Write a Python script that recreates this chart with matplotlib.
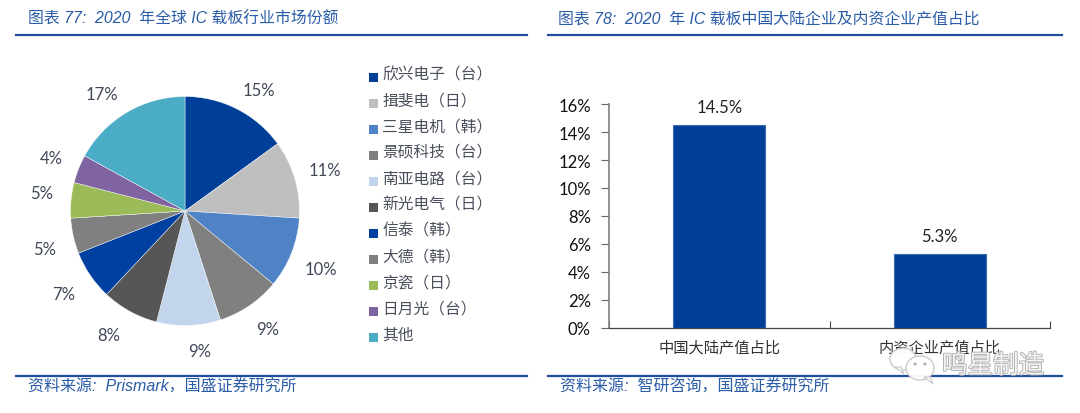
import matplotlib
matplotlib.use("Agg")
import matplotlib.pyplot as plt
import matplotlib.patheffects as pe
from matplotlib.patches import Ellipse, Polygon, Rectangle
from matplotlib.lines import Line2D

W, H = 1080, 414
CJK = ['Liberation Sans', 'Noto Sans CJK SC', 'DejaVu Sans']
plt.rcParams['font.family'] = ['Lato', 'Noto Sans CJK SC', 'DejaVu Sans']

# data
pie_names = ['欣兴电子（台）', '揖斐电（日）', '三星电机（韩）', '景硕科技（台）', '南亚电路（台）',
             '新光电气（日）', '信泰（韩）', '大德（韩）', '京瓷（日）', '日月光（台）', '其他']
pie_values = [15, 11, 10, 9, 9, 8, 7, 5, 5, 4, 17]
bar_names = ['中国大陆产值占比', '内资企业产值占比']
bar_values = [14.5, 5.3]
yticks = [0, 2, 4, 6, 8, 10, 12, 14, 16]

# styles
pie_colors = ['#003F98', '#BFBFBF', '#5082C6', '#808080', '#C3D5EC', '#565656',
              '#0040A0', '#808080', '#9BBB59', '#8064A2', '#4BACC6']
label_px = [(259, 91), (325, 171), (321, 270), (268, 330), (200, 352), (109, 336),
            (64, 295), (45, 250), (42, 194), (51, 159), (102, 95)]
legend_y = [78, 104, 130, 156, 182, 208, 234, 260, 286, 312, 338]
BLUE = '#1F4E9E'

fig = plt.figure(figsize=(W / 100, H / 100), dpi=100, facecolor='white')

def fx(x): return x / W
def fy(y): return 1 - y / H
def box(l, t, r, b): return [fx(l), fy(b), (r - l) / W, (b - t) / H]

# rules
for x0, x1 in [(16, 527), (548, 1062)]:
    for y in (35.5, 377):
        fig.add_artist(Line2D([fx(x0), fx(x1)], [fy(y), fy(y)], color=BLUE, lw=1.6))

# headings and sources
for x, y, s in [(28, 19, '图表 77:  2020  年全球 IC 载板行业市场份额'),
                (558, 19, '图表 78:  2020  年 IC 载板中国大陆企业及内资企业产值占比')]:
    fig.text(fx(x), fy(y), s, family=CJK, style='italic', fontsize=11.4, color='#2A5CA8',
             ha='left', va='center')
for x, y, s in [(28, 387, '资料来源:  Prismark,国盛证券研究所'),
                (560, 387, '资料来源:  智研咨询,国盛证券研究所')]:
    s = s.replace(',', '，')
    fig.text(fx(x), fy(y), s, family=CJK, style='italic', fontsize=11.5, color='#2A5CA8',
             ha='left', va='center')

# pie
R = 114.5
axp = fig.add_axes(box(185 - R, 212 - R, 185 + R, 212 + R))
axp.pie(pie_values, colors=pie_colors, startangle=90, counterclock=False, radius=1,
        wedgeprops=dict(edgecolor='white', linewidth=0.3))
axp.set_xlim(-1, 1)
axp.set_ylim(-1, 1)
for v, (x, y) in zip(pie_values, label_px):
    fig.text(fx(x), fy(y), f'{v}%', fontsize=12, color='#404858', ha='center', va='center')

# legend
for name, col, y in zip(pie_names, pie_colors, legend_y):
    fig.add_artist(Rectangle((fx(369), fy(y + 4.5)), 9 / W, 9 / H, transform=fig.transFigure,
                             facecolor=col, edgecolor='none'))
    fig.text(fx(382), fy(y - 3), name, fontsize=11.3, color='#4A4F5C', ha='left', va='center',
             family=['Noto Sans CJK SC', 'DejaVu Sans'])

# bars
axb = fig.add_axes(box(609, 105, 1050, 329))
xpos = list(range(len(bar_values)))
bars = axb.bar(xpos, bar_values, width=0.417, color='#003F98', edgecolor='#3A6DB5', linewidth=0.8)
axb.set_xlim(-0.5, 1.5)
axb.set_ylim(0, 16)
axb.set_yticks(yticks)
axb.set_yticklabels([f'{t}%' for t in yticks], fontsize=12, color='#111111')
axb.set_xticks([-0.5, 0.5, 1.5])
axb.set_xticklabels([])
axb.tick_params(axis='x', direction='in', length=5, width=0.8, color='#444444')
axb.tick_params(axis='y', direction='out', length=6, width=0.8, color='#666666', pad=7)
for s in ('top', 'right'):
    axb.spines[s].set_visible(False)
axb.spines['left'].set_color('#808080')
axb.spines['left'].set_linewidth(1.2)
axb.spines['bottom'].set_color('#444444')
axb.spines['bottom'].set_linewidth(0.9)
for x, name in zip(xpos, bar_names):
    axb.annotate(name, (x, 0), xytext=(0, -14), textcoords='offset points', ha='center', va='center',
                 fontsize=11, color='#333333', family=['Noto Sans CJK SC', 'DejaVu Sans'],
                 annotation_clip=False)
axb.bar_label(bars, labels=[f'{v}%' for v in bar_values], padding=7, fontsize=12, color='#222222')

# watermark
def bubble(cx, cy, rx, ry, tx):
    fig.add_artist(Ellipse((fx(cx), fy(cy)), 2 * rx / W, 2 * ry / H, transform=fig.transFigure,
                           facecolor='white', edgecolor='#C8C8C8', lw=1, alpha=0.95, zorder=6))
    fig.add_artist(Polygon([(fx(cx + tx), fy(cy + ry - 3)), (fx(cx + tx + 9), fy(cy + ry + 4)),
                            (fx(cx + tx + 6), fy(cy + ry - 3))], transform=fig.transFigure,
                           facecolor='white', edgecolor='#C8C8C8', lw=0.8, zorder=6))
bubble(903, 360, 13, 11, -8)
bubble(920, 369, 14, 12, 4)
for cx in (915, 925):
    fig.add_artist(Ellipse((fx(cx), fy(365)), 3 / W, 3 / H, transform=fig.transFigure,
                           facecolor='#AAAAAA', edgecolor='none', zorder=7))
fig.text(fx(993), fy(367), '鸣星制造', fontsize=18.4, color='#F4F4F4', ha='center', va='center',
         family=['Noto Sans CJK SC', 'DejaVu Sans'], zorder=7,
         path_effects=[pe.withStroke(linewidth=1.3, foreground='#B0B0B0')])

fig.savefig('out.png', dpi=100, facecolor='white')
